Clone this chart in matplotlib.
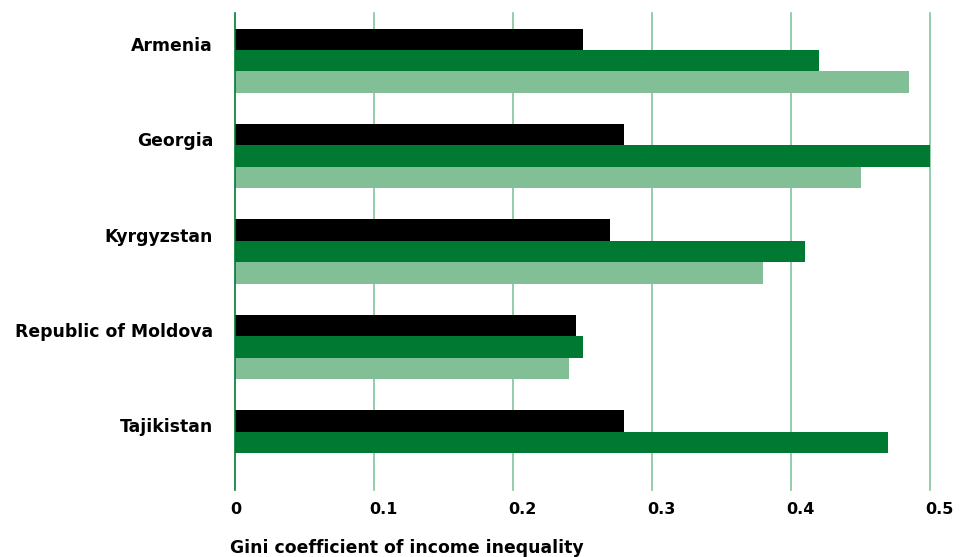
import matplotlib
matplotlib.use("Agg")
import matplotlib.pyplot as plt
import matplotlib.transforms as mtransforms
import numpy as np

plt.rcParams['font.family'] = ['DejaVu Sans']

countries = ["Armenia", "Georgia", "Kyrgyzstan", "Republic of Moldova", "Tajikistan"]
series_black = [0.25, 0.28, 0.27, 0.245, 0.28]
series_dark = [0.42, 0.50, 0.41, 0.25, 0.47]
series_light = [0.485, 0.45, 0.38, 0.24, np.nan]
xticks = [0, 0.1, 0.2, 0.3, 0.4, 0.5]
xtick_labels = ["0", "0.1", "0.2", "0.3", "0.4", "0.5"]
xlabel = "Gini coefficient of income inequality"

BLACK = "#000000"
DARK = "#007a33"
LIGHT = "#82bf97"
GRID = "#82c49c"
FS = 12.4
FS_TICK = 11.5

fig = plt.figure(figsize=(9.66, 5.57), dpi=100)
ax = fig.add_axes([235/966, 1-490/557, (930-235)/966, (490-13)/557])

y = np.arange(len(countries))
h = 0.224
ax.barh(y - h, series_black, height=h, color=BLACK, zorder=3)
ax.barh(y, series_dark, height=h, color=DARK, zorder=3)
ax.barh(y + h, series_light, height=h, color=LIGHT, zorder=3)

ax.set_ylim(len(countries) - 0.5, -0.5)
ax.set_xlim(0, 0.5)
ax.set_yticks(y - 0.177)
ax.set_yticklabels(countries, fontsize=FS, fontweight='bold')
ax.set_xticks(xticks)
ax.set_xticklabels(xtick_labels, fontsize=FS_TICK, fontweight='bold')
ax.tick_params(axis='both', length=0)
ax.tick_params(axis='y', pad=15.8)
ax.tick_params(axis='x', pad=8.5)

shift = mtransforms.ScaledTranslation(-5/100, 0, fig.dpi_scale_trans)
for lbl in ax.get_xticklabels():
    lbl.set_horizontalalignment('left')
    lbl.set_transform(lbl.get_transform() + shift)

for s in ['top', 'right', 'bottom']:
    ax.spines[s].set_visible(False)
ax.spines['left'].set_color(DARK)
ax.spines['left'].set_linewidth(1.2)
ax.spines['left'].set_zorder(4)

for xv in xticks[1:]:
    ax.axvline(xv, color=GRID, linewidth=1.2, zorder=1, clip_on=False)

fig.text(230/966, 1-548/557, xlabel, fontsize=FS, fontweight='bold', ha='left', va='center')

fig.savefig("out.png", dpi=100)
